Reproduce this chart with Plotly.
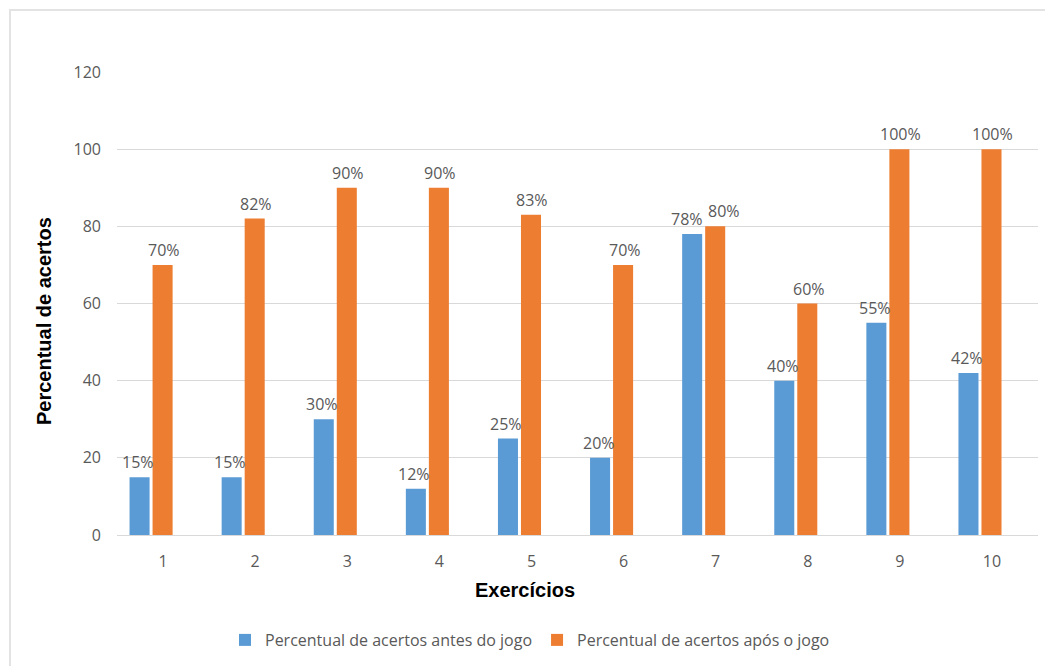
import plotly.graph_objects as go

# Exercise numbers and hit rates (%) before / after the game
exercicios = [1, 2, 3, 4, 5, 6, 7, 8, 9, 10]
antes = [15, 15, 30, 12, 25, 20, 78, 40, 55, 42]
apos = [70, 82, 90, 90, 83, 70, 80, 60, 100, 100]
y_ticks = [0, 20, 40, 60, 80, 100, 120]

nome_antes = "Percentual de acertos antes do jogo"
nome_apos = "Percentual de acertos após o jogo"

AZUL = "#5B9BD5"
LARANJA = "#ED7D31"
TEXTO = "#595959"
GRADE = "#D9D9D9"
FONTE = "Open Sans, Liberation Sans, sans-serif"

W, H = 1045, 666
ML, MR, MT, MB = 117, 7, 72, 131
PW = W - ML - MR
PH = H - MT - MB

fig = go.Figure()
fig.add_trace(go.Bar(x=exercicios, y=antes, name=nome_antes,
                     marker=dict(color=AZUL, line=dict(width=0))))
fig.add_trace(go.Bar(x=exercicios, y=apos, name=nome_apos,
                     marker=dict(color=LARANJA, line=dict(width=0))))

# value labels above each bar (pixel offsets to the bar centre in each group)
desloc_antes = {7: -4}
desloc_apos = {7: 7}
anots = []
for cat, va, vd in zip(exercicios, antes, apos):
    anots.append(dict(x=cat, y=va, text=f"{va}%", showarrow=False,
                      xshift=-13 + desloc_antes.get(cat, 0), yshift=15,
                      yanchor="middle", font=dict(size=16, color=TEXTO, family=FONTE)))
    anots.append(dict(x=cat, y=vd, text=f"{vd}%", showarrow=False,
                      xshift=13 + desloc_apos.get(cat, 0), yshift=15,
                      yanchor="middle", font=dict(size=16, color=TEXTO, family=FONTE)))

# axis titles
anots.append(dict(xref="paper", yref="paper",
                  x=(525 - ML) / PW, y=(MT + PH - 590) / PH,
                  text="<b>Exercícios</b>", showarrow=False,
                  xanchor="center", yanchor="middle",
                  font=dict(size=20, color="#000000", family="Liberation Sans, Arial, sans-serif")))
anots.append(dict(xref="paper", yref="paper",
                  x=(44 - ML) / PW, y=(MT + PH - 321) / PH,
                  text="<b>Percentual de acertos</b>", showarrow=False, textangle=-90,
                  xanchor="center", yanchor="middle",
                  font=dict(size=20, color="#000000", family="Liberation Sans, Arial, sans-serif")))

# light frame around the chart area
quadro = dict(type="rect", xref="paper", yref="paper",
              x0=(10 - ML) / PW, x1=(W + 20 - ML) / PW,
              y0=(MT + PH - H - 20) / PH, y1=(MT + PH - 10) / PH,
              line=dict(color="#E3E3E3", width=2), fillcolor="rgba(0,0,0,0)", layer="below")

fig.update_layout(
    width=W, height=H,
    margin=dict(l=ML, r=MR, t=MT, b=MB, pad=0),
    paper_bgcolor="white", plot_bgcolor="white",
    barmode="group", bargap=0.5, bargroupgap=0.13,
    font=dict(family=FONTE, size=16, color=TEXTO),
    annotations=anots,
    shapes=[quadro],
    showlegend=True,
    legend=dict(orientation="h", x=(530 - ML) / PW, xanchor="center",
                y=(MT + PH - 640) / PH, yanchor="middle",
                font=dict(size=16, color=TEXTO, family=FONTE),
                itemwidth=30, traceorder="normal"),
    xaxis=dict(range=[0.63, 10.63], tickvals=exercicios,
               ticktext=[str(e) for e in exercicios],
               showgrid=False, zeroline=False, showline=False, ticks="",
               ticklabelshift=12, ticklabelstandoff=15,
               tickfont=dict(size=16, color=TEXTO, family=FONTE)),
    yaxis=dict(range=[0, 120], tickvals=y_ticks,
               showgrid=True, gridcolor=GRADE, gridwidth=1,
               zeroline=True, zerolinecolor=GRADE, zerolinewidth=1,
               showline=False, ticks="", ticklabelstandoff=15,
               tickfont=dict(size=16, color=TEXTO, family=FONTE)),
)

fig.write_html("out.html")
